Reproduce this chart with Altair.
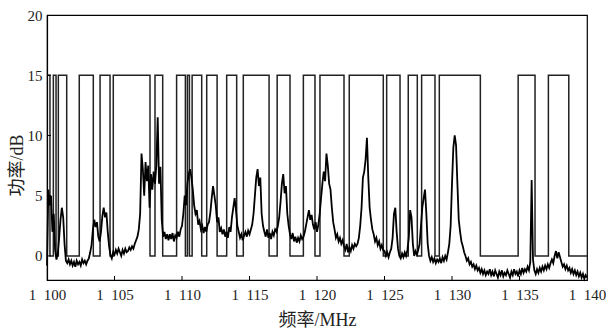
import altair as alt
import pandas as pd

# ---- data ----
x_ticks = [1100, 1105, 1110, 1115, 1120, 1125, 1130, 1135, 1140]
y_ticks = [0, 5, 10, 15, 20]
inner_x_ticks = [1105, 1110, 1115, 1120, 1125, 1130, 1135]
inner_y_ticks = [0, 5, 10, 15]

# threshold mask: segment start frequency (MHz) and its level (dB)
mask_edges = [1100.0, 1100.22, 1100.47, 1100.67, 1100.84, 1101.46, 1102.39, 1103.43,
              1103.93, 1104.67, 1104.91, 1107.63, 1108.0, 1108.57, 1109.6, 1110.25,
              1110.4, 1110.55, 1110.75, 1111.46, 1111.83, 1112.6, 1113.31, 1114.05,
              1114.54, 1116.45, 1117.05, 1118.0, 1118.99, 1119.85, 1120.22, 1122.0,
              1122.39, 1124.91, 1125.16, 1126.15, 1126.76, 1127.43, 1127.75, 1128.74,
              1129.06, 1132.1, 1134.9, 1136.15, 1137.14, 1138.65, 1140.0]
mask_levels = [15, 0, 15, 0, 15, 0, 15, 0,
               15, 0, 15, 0, 15, 0, 15, 0,
               15, 0, 15, 0, 15, 0, 15, 0,
               15, 0, 15, 0, 15, 0, 15, 0,
               15, 0, 15, 0, 15, 0, 15, 0,
               15, 0, 15, 0, 15, 0, 0]

# measured spectrum, sampled every 0.1 MHz from 1100 MHz
spec_start = 1100.0
spec_step = 0.1
spec_db = [
    -0.8, 5.5, 4.2, 5.0, 2.0, 3.5, 0.5, -0.3, 0.2, 1.5,
    3.0, 4.0, 3.2, 1.0, -0.4, -0.6, -0.3, -0.7, -0.4, -0.8,
    -0.5, -0.9, -0.4, -0.7, -0.5, -0.8, -0.3, -0.6, -0.4, -0.7,
    -0.4, -0.2, 0.3, 0.9, 2.2, 3.0, 2.4, 2.8, 1.6, 1.2,
    2.0, 3.3, 4.0, 3.2, 3.6, 2.0, 0.8, 0.1, -0.2, 0.3,
    0.1, 0.5, 0.2, 0.6, 0.3, 0.0, 0.5, 0.2, 0.6, 0.3,
    0.4, 0.7, 0.5, 0.8, 0.6, 1.0, 1.3, 1.6, 2.2, 3.5,
    8.5, 7.2, 5.0, 7.8, 6.2, 7.5, 4.0, 6.8, 5.5, 7.0,
    6.0, 7.5, 11.5, 6.0, 7.4, 3.0, 1.6, 2.0, 1.4, 1.8,
    1.3, 1.8, 1.4, 1.9, 1.2, 1.7, 1.5, 2.0, 1.6, 2.2,
    2.5, 3.5, 5.0, 4.2, 6.0, 6.8, 7.2, 6.5, 5.5, 4.2,
    3.5, 3.8, 2.6, 2.9, 2.2, 2.5, 1.9, 2.4, 2.0, 2.6,
    2.8, 3.6, 4.8, 5.8, 5.0, 4.2, 2.8, 3.2, 2.0, 2.3,
    1.8, 2.2, 1.6, 2.0, 1.5, 2.4, 2.0, 3.2, 4.0, 4.8,
    3.8, 2.5, 2.0, 1.5, 1.8, 1.3, 1.7, 2.0, 1.6, 2.1,
    1.8, 2.2, 2.6, 3.5, 5.0, 6.5, 7.2, 5.8, 6.5, 3.5,
    2.5, 2.0, 1.6, 2.2, 1.5, 1.9, 1.4, 2.0, 1.7, 2.2,
    2.0, 2.5, 3.2, 4.5, 6.0, 6.8, 5.2, 5.8, 3.5, 2.5,
    1.8, 1.4, 1.9, 1.2, 1.6, 1.1, 1.5, 1.2, 1.7, 1.4,
    1.6, 2.0, 2.6, 3.2, 3.8, 3.0, 3.4, 2.6, 2.2, 2.8,
    2.0, 2.6, 3.5, 4.8, 6.0, 7.0, 6.2, 8.5, 7.5, 6.0,
    5.5, 4.0, 2.8, 2.2, 1.5, 1.8, 1.2, 1.5, 1.0, 1.3,
    0.8, 0.5, 1.0, 0.3, 0.7, 0.4, 0.9, 0.6, 1.0, 0.8,
    1.0, 1.5, 2.5, 4.0, 6.5, 7.0, 8.0, 9.8, 6.5, 4.0,
    3.0, 2.2, 1.8, 1.2, 1.5, 0.9, 1.2, 0.6, 0.9, 0.5,
    0.4, 0.0, 0.3, -0.1, 0.3, 0.6, 1.5, 3.5, 4.0, 2.0,
    0.6, 0.0, -0.2, 0.2, -0.1, 0.3, 0.0, 0.5, 1.5, 3.8,
    3.2, 1.0, 0.0, 0.4, 0.1, 0.5, 1.0, 2.5, 4.0, 4.8,
    5.5, 3.5, 1.0, 0.0, -0.4, -0.1, -0.5, -0.2, -0.6, -0.3,
    -0.5, -0.2, -0.6, -0.1, -0.4, 0.0, -0.3, 0.3, 1.0, 2.5,
    6.0, 9.0, 10.0, 9.2, 6.0, 3.0, 2.0, 1.2, 0.8, 0.3,
    0.0, -0.4, -0.2, -0.7, -0.5, -0.9, -0.7, -1.1, -0.8, -1.2,
    -1.0, -1.4, -1.1, -1.5, -1.2, -1.6, -1.3, -1.5, -1.1, -1.6,
    -1.3, -1.7, -1.2, -1.5, -1.8, -1.3, -1.6, -1.2, -1.7, -1.4,
    -1.6, -1.2, -1.5, -1.8, -1.3, -1.6, -1.1, -1.5, -1.3, -1.7,
    -1.2, -1.5, -1.0, -1.4, -1.1, -1.3, -0.9, -1.2, -0.5, 6.3,
    -0.3, -1.2, -1.5, -1.1, -1.4, -1.0, -1.3, -0.9, -1.2, -0.8,
    -1.1, -0.7, -1.0, -0.6, -0.3, -0.6, 0.0, 0.4, -0.2, 0.3,
    -0.1, -0.5, -0.9, -0.7, -1.1, -0.8, -1.2, -1.0, -1.4, -1.1,
    -1.5, -1.2, -1.6, -1.3, -1.7, -1.4, -1.8, -1.5, -1.9, -1.6,
    -1.8,
]

freq = [round(spec_start + spec_step * i, 2) for i in range(len(spec_db))]
spec_df = pd.DataFrame({"f": freq, "p": spec_db})
mask_df = pd.DataFrame({"f": mask_edges, "p": mask_levels})
xt_df = pd.DataFrame({"f": inner_x_ticks})
yt_df = pd.DataFrame({"p": inner_y_ticks})

W, H = 540, 265
LABEL_FONT = "Liberation Serif, Times New Roman, DejaVu Serif, serif"
TITLE_FONT = "Liberation Serif, Times New Roman, Noto Sans CJK SC, serif"

xs = alt.Scale(domain=[1100, 1140], nice=False, zero=False)
ys = alt.Scale(domain=[-2, 20], nice=False, zero=False)

x_axis = alt.Axis(
    values=x_ticks,
    labelExpr="replace(format(datum.value, ','), ',', '\u2002')",
    ticks=False, grid=False, title="频率/MHz",
    labelFontSize=15, titleFontSize=18, labelPadding=7, titlePadding=9,
    labelFlush=False,
)
y_axis = alt.Axis(
    values=y_ticks, ticks=False, grid=False, title="功率/dB",
    labelFontSize=15, titleFontSize=18, labelPadding=5,
    titleX=-21, titleY=150,
)

X = alt.X("f:Q", scale=xs, axis=x_axis)
Y = alt.Y("p:Q", scale=ys, axis=y_axis)

mask = alt.Chart(mask_df).mark_line(
    interpolate="step-after", color="#222222", strokeWidth=1.5
).encode(x=X, y=Y)

spec = alt.Chart(spec_df).mark_line(color="#000000", strokeWidth=1.8).encode(x=X, y=Y)

xt = alt.Chart(xt_df).mark_rule(color="#000000", strokeWidth=1).encode(
    x=X, y=alt.value(H), y2=alt.value(H - 4),
)

yt = alt.Chart(yt_df).mark_rule(color="#000000", strokeWidth=1).encode(
    y=Y, x=alt.value(0), x2=alt.value(4),
)

chart = alt.layer(mask, spec, xt, yt).properties(
    width=W, height=H,
    autosize=alt.AutoSizeParams(type="none"),
    padding={"left": 47, "top": 15, "right": 19, "bottom": 52},
    background="white",
).configure_view(
    stroke="#000000", strokeWidth=1.2
).configure_axis(
    labelFont=LABEL_FONT, titleFont=TITLE_FONT, labelColor="#222222", titleColor="#222222",
    titleFontWeight="normal", domainColor="#000000", domainWidth=1.2,
)

chart.save("out.html", embed_options={"renderer": "svg", "actions": False})
